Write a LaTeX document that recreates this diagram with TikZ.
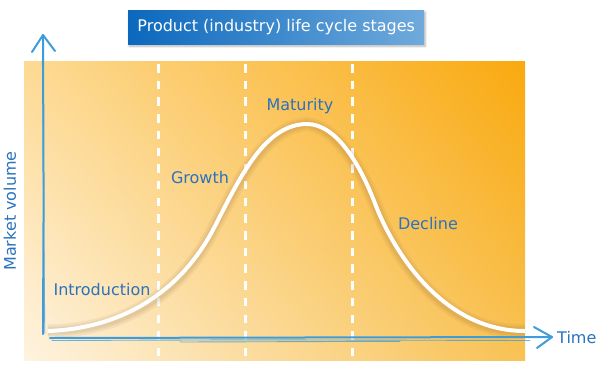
\documentclass[tikz,border=0pt]{standalone}
\usepackage{fontspec}
\setmainfont{DejaVu Sans}
\usetikzlibrary{shadows.blur,shadings}
\definecolor{axisblue}{HTML}{3E9CDB}
\definecolor{labelblue}{HTML}{2A72BE}
\definecolor{titleL}{HTML}{0B68BD}
\definecolor{titleR}{HTML}{70AADC}
\definecolor{bgLL}{HTML}{FEF3E0}
\definecolor{bgUL}{HTML}{FDDA94}
\definecolor{bgUR}{HTML}{F9A90F}
\definecolor{bgLR}{HTML}{F8C254}
\tikzset{
  stagelabel/.style={text=labelblue, font=\fontsize{16}{18}\selectfont, inner sep=0pt},
  stagedash/.style={white, line width=3pt, dash pattern=on 8.5pt off 8.2pt},
  lifecurve/.style={white, line width=4pt},
  curveshadow/.style={brown!70!black, opacity=0.07, line width=#1},
  axisline/.style={axisblue, line width=2pt, line cap=round, line join=round},
  axisthin/.style={axisblue, line width=0.9pt, opacity=0.75, line cap=round},
}
\begin{document}
\begin{tikzpicture}[x=1pt, y=-1pt]
\useasboundingbox (0,0) rectangle (597,368);
% background
\shade[lower left=bgLL, upper left=bgUL, upper right=bgUR, lower right=bgLR] (24,61) rectangle (525,360);
% dashed stage separators
\foreach \xx/\nm in {158/a,245/b,352/c}{
  \coordinate (top\nm) at (\xx,64);
  \coordinate (bot\nm) at (\xx,360);
  \draw[stagedash] (top\nm) -- (bot\nm);
}
% curve
\coordinate (cstart) at (48,331);
\coordinate (cinf1) at (215,226);
\coordinate (cpeak) at (307,124);
\coordinate (cinf2) at (376,206);
\coordinate (cend) at (525,331);
\def\curvepath{(cstart) .. controls (130,328) and (185,285) .. (cinf1)
  .. controls (240,177) and (265,124) .. (cpeak)
  .. controls (337,124) and (361,166) .. (cinf2)
  .. controls (392,247) and (440,331) .. (cend)}
\begin{scope}[yshift=-3pt]
\foreach \w in {14pt,10pt,7pt}{
\draw[curveshadow=\w] \curvepath;
}
\end{scope}
\draw[lifecurve] \curvepath;
% axes
\coordinate (origin) at (43,334);
\coordinate (ytip) at (43,35);
\coordinate (xtip) at (552,337);
\draw[axisline] (origin) -- (43.6,200) -- (ytip);
\draw[axisthin] (44.8,333) -- (43.4,180) -- (42.4,60);
\draw[axisline] (32,52) -- (ytip) -- (55,51);
\draw[axisline] (50,338) -- (300,337.5) -- (xtip);
\draw[axisthin] (52,340.5) -- (250,339.8) -- (530,340.5);
\draw[axisthin] (180,342) -- (400,341.3);
\draw[axisline] (534,327) -- (xtip) -- (537,348);
% title
\node[inner sep=0pt, minimum width=296pt, minimum height=34pt, anchor=north west,
  blur shadow={shadow xshift=1pt, shadow yshift=-2pt, shadow blur steps=6, shadow opacity=30},
  left color=titleL, right color=titleR] (title) at (128,10) {};
\node[text=white, font=\fontsize{16}{18}\selectfont] (titletext) at (title.center) {Product (industry) life cycle stages};
% labels
\node[stagelabel] (intro) at (102,290) {Introduction};
\node[stagelabel] (growth) at (200,178) {Growth};
\node[stagelabel] (maturity) at (300,106) {Maturity};
\node[stagelabel] (decline) at (428,224) {Decline};
\node[stagelabel, anchor=west] (time) at (557,338) {Time};
\node[stagelabel, rotate=90] (mv) at (10,211) {Market volume};
\end{tikzpicture}
\end{document}
